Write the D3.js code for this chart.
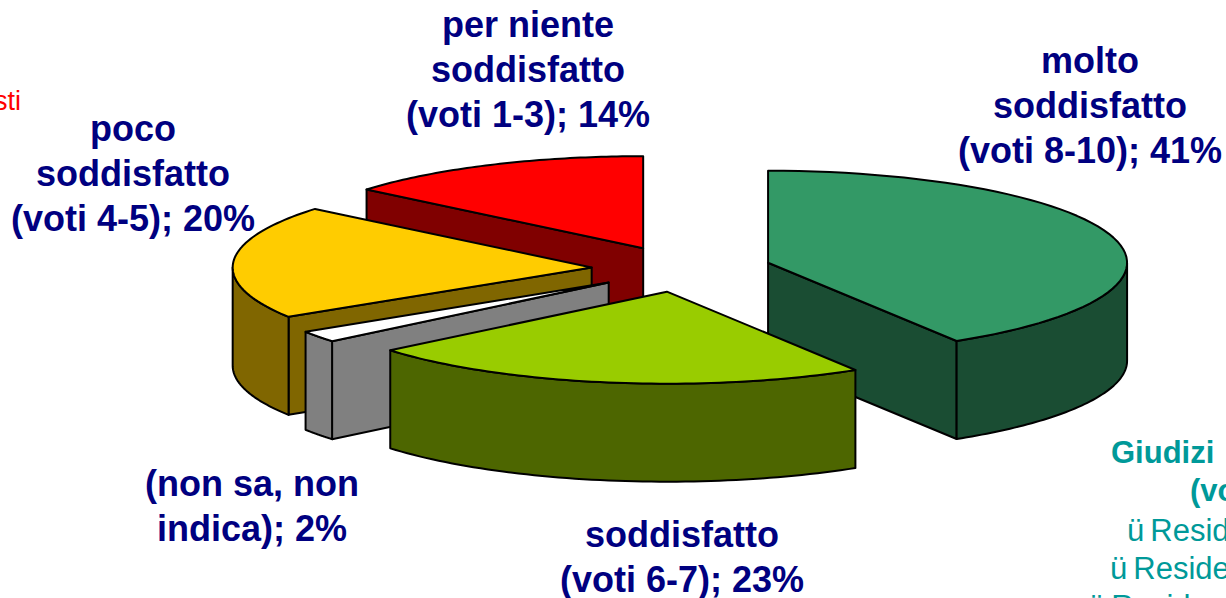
<!DOCTYPE html>
<html><head><meta charset="utf-8">
<script src="https://cdn.jsdelivr.net/npm/d3@7"></script>
<style>html,body{margin:0;padding:0;background:#fff;overflow:hidden}svg{display:block}</style>
</head><body><svg id="c" width="1226" height="598"></svg>
<script>
// data
const categories = ["molto soddisfatto (voti 8-10)","soddisfatto (voti 6-7)","(non sa, non indica)","poco soddisfatto (voti 4-5)","per niente soddisfatto (voti 1-3)"];
const values = [41.2,22.8,2,20,14];
const topColors = ["#339966","#99cc00","#ffffff","#ffcc00","#ff0000"];
const sideColors = ["#1a4d33","#4d6600","#808080","#806600","#800000"];
const paintOrder = [4,3,2,0,1];
const labelLines = [
  ["molto","soddisfatto","(voti 8-10); 41%"],
  ["soddisfatto","(voti 6-7); 23%"],
  ["(non sa, non","indica); 2%"],
  ["poco","soddisfatto","(voti 4-5); 20%"],
  ["per niente","soddisfatto","(voti 1-3); 14%"]
];
// layout
const cx=681.5, cy=269, rx=359, ry=92, depth=98, exX=90, exY=23;
const labelAnchor=[[1090,73],[682,547],[252,496],[133,141],[528,37]];
const labelLead=45, labelSize=36;

const svg=d3.select("#c");
const arcs=d3.pie().sort(null).value(d=>d)(values);
const line=d3.line();
const sx=d3.scaleLinear().domain([-1,1]).range([-rx,rx]);
const sy=d3.scaleLinear().domain([-1,1]).range([-ry,ry]);
const pt=(o,t,dz=0)=>[o[0]+sx(Math.sin(t)),o[1]-sy(Math.cos(t))+dz];
const rimPts=(o,a,b,dz=0)=>d3.range(0,61).map(i=>pt(o,a+(b-a)*i/60,dz));

const slices=arcs.map((d,i)=>{
  const m=(d.startAngle+d.endAngle)/2;
  return {d,i,o:[cx+exX*Math.sin(m),cy-exY*Math.cos(m)]};
});
const g=svg.append("g").attr("stroke","#000").attr("stroke-width",2).attr("stroke-linejoin","round");
paintOrder.forEach(k=>{
  const {d,i,o}=slices[k];
  const side=sideColors[i];
  // only the radial walls that face the viewer
  const walls=[];
  if(Math.sin(d.startAngle)<-1e-6) walls.push(d.startAngle);
  if(Math.sin(d.endAngle)>1e-6) walls.push(d.endAngle);
  walls.forEach(t=>{
    const p=pt(o,t);
    g.append("path").attr("fill",side)
     .attr("d",line([o,p,[p[0],p[1]+depth],[o[0],o[1]+depth]])+"Z");
  });
  const a=Math.max(d.startAngle,Math.PI/2), b=Math.min(d.endAngle,Math.PI*1.5);
  if(b>a){
    g.append("path").attr("fill",side)
     .attr("d",line(rimPts(o,a,b).concat(rimPts(o,b,a,depth)))+"Z");
  }
  g.append("path").attr("fill",topColors[i])
   .attr("d",line([o].concat(rimPts(o,d.startAngle,d.endAngle)))+"Z");
});

const font="'Liberation Sans',Arial,sans-serif";
labelLines.forEach((ls,i)=>{
  ls.forEach((s,j)=>{
    svg.append("text").attr("x",labelAnchor[i][0]).attr("y",labelAnchor[i][1]+j*labelLead)
      .attr("text-anchor","middle").attr("font-family",font).attr("font-weight","bold")
      .attr("font-size",labelSize).attr("fill","#000080").text(s);
  });
});
// clipped slide text around the chart
const teal="#009999";
const extra=[
 {t:"sti",x:-6,y:110,s:27,c:"#ff0000",w:"normal"},
 {t:"Giudizi",x:1111,y:463,s:31,c:teal,w:"bold"},
 {t:"(vo",x:1190,y:501,s:31,c:teal,w:"bold"}
];
extra.forEach(e=>svg.append("text").attr("x",e.x).attr("y",e.y).attr("font-family",font)
  .attr("font-size",e.s).attr("font-weight",e.w).attr("fill",e.c).text(e.t));
const ticks=[
 {t:"Resid",x:1127,y:541},
 {t:"Reside",x:1110,y:579},
 {t:"Resid",x:1088,y:617}
];
ticks.forEach(e=>{
  const tx=svg.append("text").attr("x",e.x).attr("y",e.y).attr("font-family",font)
    .attr("font-size",31).attr("fill",teal);
  tx.append("tspan").text("ü");
  tx.append("tspan").attr("dx",6).text(e.t);
});
</script></body></html>
